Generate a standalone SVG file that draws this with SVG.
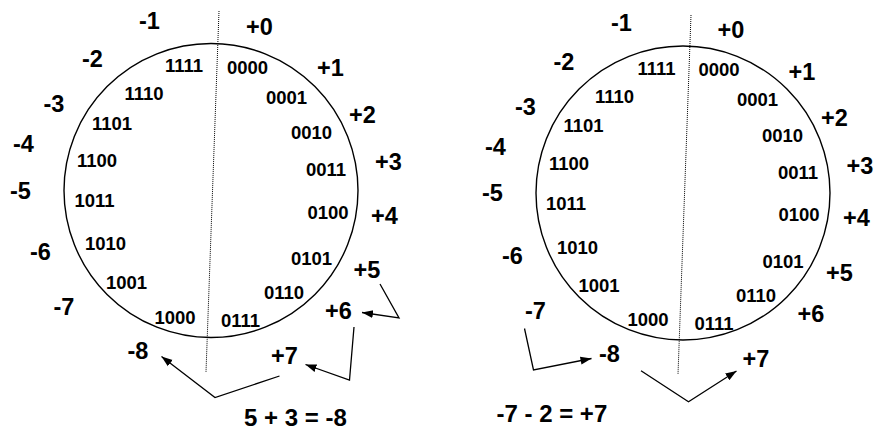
<svg xmlns="http://www.w3.org/2000/svg" width="878" height="431" viewBox="0 0 878 431">
<style>
text{font-family:"Liberation Sans",Arial,sans-serif;font-weight:bold;fill:#000}
.s{font-size:23.5px}
.b{font-size:18.5px}
.e{font-size:24px}
.ring{fill:none;stroke:#000;stroke-width:1.4}
.axis{stroke:#000;stroke-width:1;stroke-dasharray:1 1}
.arr{fill:none;stroke:#000;stroke-width:1.3;marker-end:url(#ah)}
</style>
<defs>
<marker id="ah" markerUnits="userSpaceOnUse" markerWidth="12" markerHeight="10" viewBox="0 0 12 10" refX="11" refY="5" orient="auto">
<path d="M0,1 L11,5 L0,9 Z" fill="#000"/>
</marker>
</defs>
<rect width="878" height="431" fill="#fff"/>

<g id="wheel-left">
<circle class="ring" cx="211" cy="190.5" r="147"/>
<line class="axis" x1="219" y1="11" x2="206" y2="372"/>
<g class="s">
<text x="139" y="28.5">-1</text>
<text x="246" y="35">+0</text>
<text x="82" y="67">-2</text>
<text x="317" y="76">+1</text>
<text x="43.5" y="112">-3</text>
<text x="349" y="123">+2</text>
<text x="13" y="152">-4</text>
<text x="375" y="170">+3</text>
<text x="10" y="198.5">-5</text>
<text x="371" y="224">+4</text>
<text x="30" y="260">-6</text>
<text x="353.5" y="278">+5</text>
<text x="53.5" y="315">-7</text>
<text x="325" y="318.5">+6</text>
<text x="127.5" y="358.5">-8</text>
<text x="271" y="363.5">+7</text>
</g>
<g class="b">
<text x="165" y="72">1111</text>
<text x="227" y="73.5">0000</text>
<text x="124.5" y="99.5">1110</text>
<text x="266" y="103.5">0001</text>
<text x="92" y="130">1101</text>
<text x="291" y="138.5">0010</text>
<text x="77" y="167">1100</text>
<text x="306" y="176">0011</text>
<text x="74.5" y="207">1011</text>
<text x="307.5" y="218.5">0100</text>
<text x="85" y="250">1010</text>
<text x="291" y="265">0101</text>
<text x="106" y="289">1001</text>
<text x="264" y="298.5">0110</text>
<text x="154.5" y="323.5">1000</text>
<text x="221" y="327">0111</text>
</g>
<text class="e" x="244" y="425.5">5 + 3 = -8</text>
</g>

<g id="wheel-right">
<circle class="ring" cx="683" cy="193" r="147"/>
<line class="axis" x1="691" y1="15" x2="678" y2="374.5"/>
<g class="s">
<text x="611" y="31">-1</text>
<text x="717.5" y="37.5">+0</text>
<text x="553.5" y="70">-2</text>
<text x="788.5" y="79.5">+1</text>
<text x="515" y="115">-3</text>
<text x="821" y="126">+2</text>
<text x="485" y="155">-4</text>
<text x="846.5" y="173.5">+3</text>
<text x="482" y="201">-5</text>
<text x="843" y="225.5">+4</text>
<text x="502" y="263.5">-6</text>
<text x="826" y="281">+5</text>
<text x="525" y="318.5">-7</text>
<text x="797.5" y="322">+6</text>
<text x="599" y="362">-8</text>
<text x="742.5" y="367">+7</text>
</g>
<g class="b">
<text x="637.5" y="75">1111</text>
<text x="698.5" y="76">0000</text>
<text x="595" y="103">1110</text>
<text x="737" y="106">0001</text>
<text x="563.5" y="132">1101</text>
<text x="762" y="142">0010</text>
<text x="549" y="170">1100</text>
<text x="778" y="178.5">0011</text>
<text x="546" y="210">1011</text>
<text x="778.5" y="220.5">0100</text>
<text x="557" y="253.5">1010</text>
<text x="762.5" y="267.5">0101</text>
<text x="578.5" y="292">1001</text>
<text x="736" y="302">0110</text>
<text x="627.5" y="326">1000</text>
<text x="694.5" y="329.5">0111</text>
</g>
<text class="e" x="496.5" y="422">-7 - 2 = +7</text>
</g>

<g id="connectors">
<polyline class="arr" points="380,284 399,318 362,312.5"/>
<polyline class="arr" points="354,327 349.5,380 305.5,364.5"/>
<polyline class="arr" points="279.5,376 215,397.5 161.5,356.5"/>
<polyline class="arr" points="524.5,328.5 533.5,370 591.5,358.5"/>
<polyline class="arr" points="641,370.7 688.5,401.7 736.5,371"/>
</g>
</svg>
